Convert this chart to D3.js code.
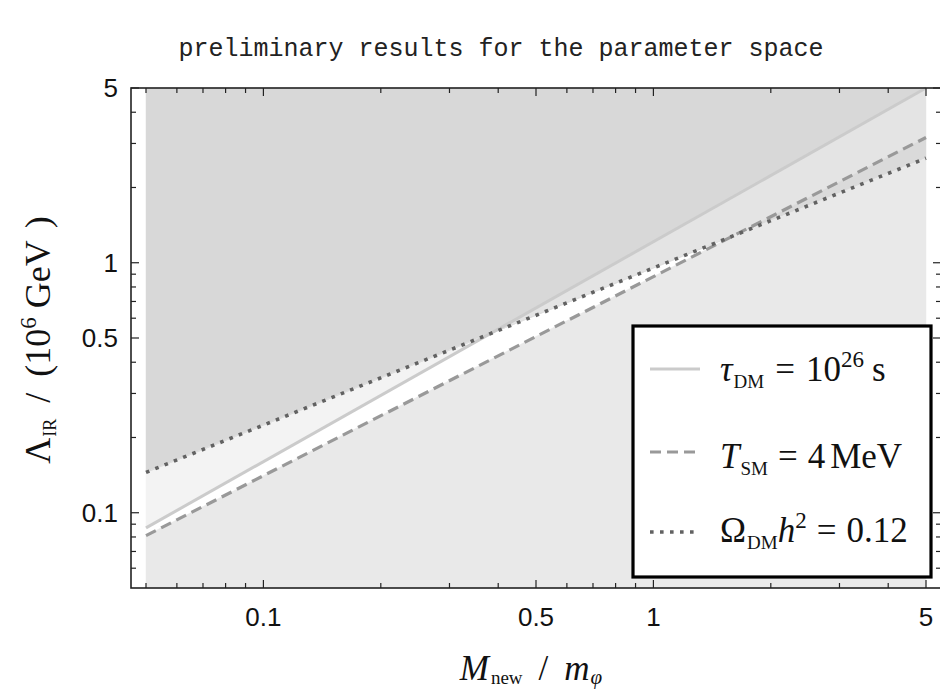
<!DOCTYPE html>
<html><head><meta charset="utf-8">
<script src="https://cdn.jsdelivr.net/npm/d3@7/dist/d3.min.js"></script>
<style>body{margin:0;background:#fff}svg{display:block}</style>
</head><body>
<svg id="c" width="940" height="693"></svg>
<script>
// ---- data ----
const xDomain = [0.05, 5];
const yDomain = [0.05, 5];
const xMajorTicks = [0.1, 0.5, 1, 5];
const xMajorLabels = ["0.1", "0.5", "1", "5"];
const xMinorTicks = [0.05, 0.06, 0.07, 0.08, 0.09, 0.2, 0.3, 0.4, 0.6, 0.7, 0.8, 0.9, 2, 3, 4];
const yMajorTicks = [0.1, 0.5, 1, 5];
const yMajorLabels = ["0.1", "0.5", "1", "5"];
const yMinorTicks = [0.06, 0.07, 0.08, 0.09, 0.2, 0.3, 0.4, 0.6, 0.7, 0.8, 0.9, 2, 3, 4];
// boundary lines (straight in log-log)
const tauLine = [{x: 0.05, y: 0.087}, {x: 5, y: 5.0}];
const tsmLine = [{x: 0.05, y: 0.081}, {x: 5, y: 3.17}];
const omegaLine = [{x: 0.05, y: 0.145}, {x: 5, y: 2.62}];
const title = "preliminary results for the parameter space";

// ---- layout ----
const svg = d3.select("#c");
const frame = {l: 131, r: 941, t: 88, b: 588};
const x = d3.scaleLog().domain(xDomain).range([146, 926]);
const y = d3.scaleLog().domain(yDomain).range([588, 88]);

function lv(line, xv) {
  const a = line[0], b = line[1];
  const t = (Math.log(xv) - Math.log(a.x)) / (Math.log(b.x) - Math.log(a.x));
  return Math.exp(Math.log(a.y) + t * (Math.log(b.y) - Math.log(a.y)));
}
const lines = [tauLine, tsmLine, omegaLine];
let bps = [xDomain[0], xDomain[1]];
for (let i = 0; i < 3; i++) for (let j = i + 1; j < 3; j++) {
  const f = u => Math.log(lv(lines[i], u)) - Math.log(lv(lines[j], u));
  const f0 = f(xDomain[0]), f1 = f(xDomain[1]);
  if (f0 * f1 < 0) {
    const t = f0 / (f0 - f1);
    bps.push(Math.exp(Math.log(xDomain[0]) + t * (Math.log(xDomain[1]) - Math.log(xDomain[0]))));
  }
}
bps.sort((a, b) => a - b);

const S = u => lv(tauLine, u), D = u => lv(tsmLine, u), O = u => lv(omegaLine, u);
const regions = [
  {col: "#d8d8d8", y0: u => Math.max(S(u), O(u)), y1: u => yDomain[1]},
  {col: "#f3f3f3", y0: u => S(u), y1: u => Math.max(S(u), O(u))},
  {col: "#e4e4e4", y0: u => Math.max(D(u), O(u)), y1: u => Math.max(S(u), D(u), O(u))},
  {col: "#dadada", y0: u => O(u), y1: u => Math.max(O(u), D(u))},
  {col: "#e9e9e9", y0: u => yDomain[0], y1: u => Math.min(D(u), O(u))}
];
regions.forEach(r => {
  const area = d3.area().x(u => x(u)).y0(u => y(r.y0(u))).y1(u => y(r.y1(u)));
  svg.append("path").attr("d", area(bps)).attr("fill", r.col).attr("stroke", r.col).attr("stroke-width", 0.5);
});

const ln = d3.line().x(d => x(d.x)).y(d => y(d.y));
svg.append("path").attr("d", ln(tauLine)).attr("fill", "none").attr("stroke", "#cbcbcb").attr("stroke-width", 3);
svg.append("path").attr("d", ln(tsmLine)).attr("fill", "none").attr("stroke", "#999").attr("stroke-width", 3.2).attr("stroke-dasharray", "11,6");
svg.append("path").attr("d", ln(omegaLine)).attr("fill", "none").attr("stroke", "#626262").attr("stroke-width", 3.6).attr("stroke-dasharray", "3.6,6.4");

// ---- frame & ticks ----
const fc = "#222";
svg.append("rect").attr("x", frame.l).attr("y", frame.t).attr("width", frame.r - frame.l).attr("height", frame.b - frame.t)
  .attr("fill", "none").attr("stroke", fc).attr("stroke-width", 1.6);
const tk = svg.append("g").attr("stroke", fc).attr("stroke-width", 1.2);
function xt(v, len) {
  tk.append("line").attr("x1", x(v)).attr("x2", x(v)).attr("y1", frame.b).attr("y2", frame.b - len);
  tk.append("line").attr("x1", x(v)).attr("x2", x(v)).attr("y1", frame.t).attr("y2", frame.t + len);
}
function yt(v, len) {
  tk.append("line").attr("y1", y(v)).attr("y2", y(v)).attr("x1", frame.l).attr("x2", frame.l + len);
  tk.append("line").attr("y1", y(v)).attr("y2", y(v)).attr("x1", frame.r).attr("x2", frame.r - len);
}
xMajorTicks.forEach(v => xt(v, 8)); xMinorTicks.forEach(v => xt(v, 5));
yMajorTicks.forEach(v => yt(v, 8)); yMinorTicks.forEach(v => yt(v, 5));

const lf = "'Liberation Sans', Arial, sans-serif";
svg.append("g").selectAll("text").data(xMajorTicks).join("text")
  .attr("x", d => x(d)).attr("y", 626).attr("text-anchor", "middle")
  .attr("font-family", lf).attr("font-size", 26).attr("fill", "#111").text((d, i) => xMajorLabels[i]);
svg.append("g").selectAll("text").data(yMajorTicks).join("text")
  .attr("x", 118).attr("y", d => y(d) + 9).attr("text-anchor", "end")
  .attr("font-family", lf).attr("font-size", 26).attr("fill", "#111").text((d, i) => yMajorLabels[i]);

// ---- title ----
svg.append("text").attr("x", 501).attr("y", 56).attr("text-anchor", "middle")
  .attr("font-family", "'Liberation Mono', 'DejaVu Sans Mono', monospace").attr("font-size", 25).attr("fill", "#222").text(title);

// ---- axis titles ----
const sf = "'Liberation Serif', 'DejaVu Serif', serif";
function rich(sel, parts, base) {
  parts.forEach(p => {
    const t = sel.append("tspan").text(p.t).attr("font-size", p.s || base);
    if (p.i) t.attr("font-style", "italic");
    if (p.dy) t.attr("dy", p.dy);
    if (p.dx) t.attr("dx", p.dx);
  });
}
const xl = svg.append("text").attr("x", 531).attr("y", 680).attr("text-anchor", "middle").attr("font-family", sf).attr("fill", "#111");
rich(xl, [{t: "M", i: 1}, {t: "new", s: 19, dy: 4, dx: 2}, {t: "/", dy: -4, dx: 16}, {t: "m", i: 1, dx: 16}, {t: "φ", i: 1, s: 21, dy: 4, dx: 1}], 35);
const yl = svg.append("text").attr("transform", "translate(50,340) rotate(-90)").attr("text-anchor", "middle").attr("font-family", sf).attr("fill", "#111");
rich(yl, [{t: "Λ"}, {t: "IR", s: 18, dy: 6, dx: 1}, {t: "/", dy: -6, dx: 16}, {t: "(10", dx: 16}, {t: "6", s: 23, dy: -14}, {t: "GeV", dy: 14, dx: 9}, {t: ")", dx: 12}], 36);

// ---- legend ----
svg.append("rect").attr("x", 633).attr("y", 326).attr("width", 298).attr("height", 251)
  .attr("fill", "#fff").attr("stroke", "#000").attr("stroke-width", 3.2);
const leg = [
  {y: 369, b: 381, stroke: "#cbcbcb", w: 3, dash: null, parts: [{t: "τ", i: 1}, {t: "DM", s: 19, dy: 7, dx: 1}, {t: "=", dy: -7, dx: 11}, {t: "10", dx: 11}, {t: "26", s: 23, dy: -14}, {t: "s", dy: 14, dx: 8}]},
  {y: 452, b: 468, stroke: "#999", w: 3.2, dash: "11,6", parts: [{t: "T", i: 1}, {t: "SM", s: 19, dy: 7, dx: 1}, {t: "=", dy: -7, dx: 10}, {t: "4", dx: 10}, {t: "MeV", dx: 5}]},
  {y: 532, b: 542, stroke: "#626262", w: 3.6, dash: "3.6,6.4", parts: [{t: "Ω"}, {t: "DM", s: 19, dy: 7, dx: 1}, {t: "h", i: 1, dy: -7}, {t: "2", s: 23, dy: -14}, {t: "=", dy: 14, dx: 10}, {t: "0.12", dx: 10}]}
];
leg.forEach(e => {
  const l = svg.append("line").attr("x1", 650).attr("x2", 700).attr("y1", e.y).attr("y2", e.y)
    .attr("stroke", e.stroke).attr("stroke-width", e.w);
  if (e.dash) l.attr("stroke-dasharray", e.dash);
  const t = svg.append("text").attr("x", 720).attr("y", e.b).attr("font-family", sf).attr("fill", "#111");
  rich(t, e.parts, 35);
});
</script>
</body></html>
